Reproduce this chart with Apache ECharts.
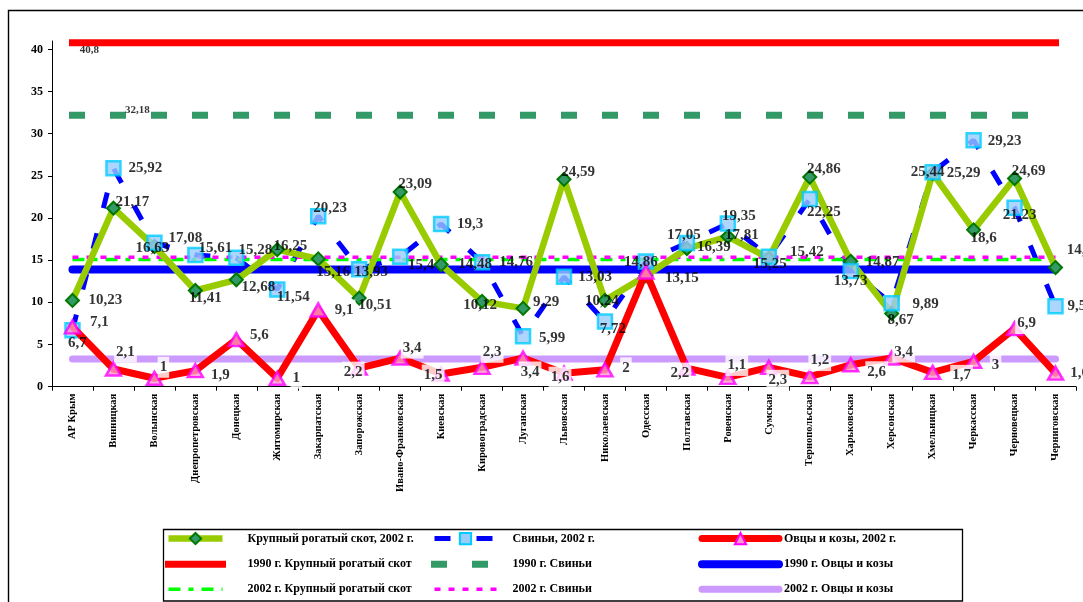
<!DOCTYPE html>
<html><head><meta charset="utf-8">
<script src="https://cdn.jsdelivr.net/npm/echarts@6/dist/echarts.min.js"></script>
<style>html,body{margin:0;padding:0;background:#fff}#c{width:1083px;height:602px}</style>
</head><body><div id="c"></div>
<script>
const regions = ['АР Крым','Винницкая','Волынская','Днепропетровская','Донецкая','Житомирская','Закарпатская','Запорожская','Ивано-Франковская','Киевская','Кировоградская','Луганская','Львовская','Николаевская','Одесская','Полтавская','Ровенская','Сумская','Тернопольская','Харьковская','Херсонская','Хмельницкая','Черкасская','Черновецкая','Черниговская'];
const cattle2002 = [10.23,21.17,16.63,11.41,12.68,16.25,15.16,10.51,23.09,14.48,10.12,9.29,24.59,10.24,13.15,16.39,17.81,15.25,24.86,14.87,8.67,25.29,18.6,24.69,14.13];
const pigs2002   = [6.7,25.92,17.08,15.61,15.28,11.54,20.23,13.93,15.4,19.3,14.76,5.99,13.03,7.72,14.86,17.05,19.35,15.42,22.25,13.73,9.89,25.44,29.23,21.23,9.54];
const sheep2002  = [7.1,2.1,1,1.9,5.6,1,9.1,2.2,3.4,1.5,2.3,3.4,1.6,2,13.6,2.2,1.1,2.3,1.2,2.6,3.4,1.7,3,6.9,1.6];
const cattle1990 = 40.8;
const pigs1990 = 32.18;
const sheep1990 = 13.9;
const cattleAvg2002 = 15.1;
const pigsAvg2002 = 15.35;
const sheepAvg2002 = 3.3;
const yTicks = [0,5,10,15,20,25,30,35,40];
const names = {
  cattle: 'Крупный рогатый скот, 2002 г.', pigs: 'Свиньи, 2002 г.', sheep: 'Овцы и козы, 2002 г.',
  c90: '1990 г. Крупный рогатый скот', p90: '1990 г. Свиньи', s90: '1990 г. Овцы и козы',
  c02: '2002 г. Крупный рогатый скот', p02: '2002 г. Свиньи', s02: '2002 г. Овцы и козы'
};

// label placement (pixel offsets of label centre from the point) -- styling only
const cattleLabelOffsets = [[33,0],[19,-6],[-2,2],[10,8],[22,7],[13,-4],[15,13],[16,7],[15,-8],[34,0],[-2,4],[23,-6],[14,-7],[-3,1],[36,2],[27,-1],[14,-1],[1,6],[14,-8],[32,1],[9,7],[31,0],[10,8],[14,-7],[28,-17]];
const pigLabelOffsets = [[5,13],[32,0],[31,-5],[20,-7],[19,-8],[16,8],[12,-8],[12,3],[21,8],[29,0],[34,0],[29,2],[31,0],[8,8],[-5,1],[-3,-8],[11,-7],[38,-5],[14,13],[0,10],[34,1],[-5,0],[31,1],[5,7],[25,0]];
const sheepLabelOffsets = [[27,-5],[12,-17],[9,-11],[25,4],[23,-4],[19,0],[26,0],[-6,4],[12,-10],[-8,1],[10,-15],[7,14],[-4,4],[21,-2],null,[-7,5],[9,-12],[9,13],[10,-16],[26,7],[12,-6],[29,3],[22,4],[12,-5],[24,0]];

const FF = "'Liberation Serif','Times New Roman',serif";
const fmt = v => String(v).replace('.', ',');
const last = regions.length - 1;
const CLEAR = 'rgba(0,0,0,0)';

function labelSeries(values, offsets, extra) {
  return {
    type: 'scatter', silent: true, z: 10, symbolSize: 1,
    itemStyle: {color: CLEAR},
    emphasis: {disabled: true},
    data: values.map((v, i) => ({
      value: [i, v],
      label: offsets[i] ? {show: true, offset: offsets[i]} : {show: false}
    })),
    label: Object.assign({
      show: true, position: 'inside', formatter: p => fmt(p.value[1]),
      fontFamily: FF, fontWeight: 'bold', fontSize: 15, color: '#000'
    }, extra || {})
  };
}
function markerSeries(values, z, symbol, size, itemStyle) {
  return {
    type: 'scatter', silent: true, z, symbol, symbolSize: size,
    emphasis: {disabled: true}, itemStyle,
    data: values.map((v, i) => [i, v])
  };
}
function hLine(name, v, lineStyle) {
  return {
    name, type: 'line', symbol: 'none', z: 2, silent: true,
    emphasis: {disabled: true},
    itemStyle: {color: CLEAR},
    data: [[0, v], [last, v]],
    lineStyle
  };
}
const legendText = pad => ({fontFamily: FF, fontWeight: 'bold', fontSize: 12, color: '#000', padding: [0,0,0,pad]});

const diamondStyle = {color: '#339966', borderColor: '#007700', borderWidth: 2};
const squareStyle = {color: '#99CCFF', borderColor: '#00CCFF', borderWidth: 2.5};
const triangleStyle = {color: '#FF99CC', borderColor: '#FF00FF', borderWidth: 2.5};

const chart = echarts.init(document.getElementById('c'), null, {renderer: 'canvas'});
chart.setOption({
  animation: false,
  backgroundColor: '#fff',
  grid: {left: 52, right: 7, top: 41, bottom: 215.3},
  xAxis: {
    type: 'category', data: regions, boundaryGap: true,
    axisLine: {lineStyle: {color: '#000', width: 1}},
    axisTick: {show: true, interval: 0, length: 4, lineStyle: {color: '#000'}},
    axisLabel: {interval: 0, rotate: 90, margin: 7, fontFamily: FF, fontWeight: 'bold', fontSize: 10.5, color: '#000'},
    splitLine: {show: false}
  },
  yAxis: {
    type: 'value', min: 0, max: 41,
    axisLine: {show: true, lineStyle: {color: '#000', width: 1}},
    axisTick: {show: true, length: 4, customValues: yTicks, lineStyle: {color: '#000'}},
    axisLabel: {customValues: yTicks, margin: 9, fontFamily: FF, fontWeight: 'bold', fontSize: 12, color: '#000'},
    splitLine: {show: false}
  },
  legend: [
    {data: [names.cattle, names.c90, names.c02], orient: 'vertical', left: 165, top: 532, padding: 0,
     itemWidth: 54, itemHeight: 14, itemGap: 13, selectedMode: false,
     lineStyle: {width: 'inherit'}, textStyle: legendText(20)},
    {data: [names.pigs, names.p90, names.p02], orient: 'vertical', left: 431, top: 532, padding: 0,
     itemWidth: 62, itemHeight: 14, itemGap: 13, selectedMode: false,
     lineStyle: {width: 'inherit'}, textStyle: legendText(11)},
    {data: [names.sheep, names.s90, names.s02], orient: 'vertical', left: 698, top: 532, padding: 0,
     itemWidth: 77, itemHeight: 14, itemGap: 13, selectedMode: false,
     lineStyle: {width: 'inherit'}, textStyle: legendText(0)}
  ],
  graphic: [
    {type: 'rect', shape: {x: 8.5, y: 10.5, width: 1090, height: 620}, style: {fill: 'none', stroke: '#000', lineWidth: 1.4}, silent: true},
    {type: 'rect', shape: {x: 163.5, y: 529.5, width: 799, height: 71.5}, style: {fill: 'none', stroke: '#000', lineWidth: 1.3}, silent: true}
  ],
  series: [
    {name: names.pigs, type: 'line', z: 1, data: pigs2002, silent: true, emphasis: {disabled: true},
     symbol: 'rect', symbolSize: 13, showSymbol: false, itemStyle: squareStyle,
     lineStyle: {color: '#0000FF', width: 5, type: [16, 26]}},
    hLine(names.c90, cattle1990, {color: '#FF0000', width: 7, cap: 'square'}),
    hLine(names.p90, pigs1990, {color: '#339966', width: 7, type: [9, 32], cap: 'square'}),
    hLine(names.s90, sheep1990, {color: '#0000FF', width: 8, cap: 'round'}),
    hLine(names.s02, sheepAvg2002, {color: '#CC99FF', width: 7, cap: 'round'}),
    hLine(names.c02, cattleAvg2002, {color: '#00FF00', width: 3.5, type: [12, 8, 5, 8]}),
    hLine(names.p02, pigsAvg2002, {color: '#FF00FF', width: 3.5, type: [6, 8]}),
    {name: names.cattle, type: 'line', z: 3, data: cattle2002, silent: true, emphasis: {disabled: true},
     symbol: 'diamond', symbolSize: 13, showAllSymbol: true, itemStyle: diamondStyle,
     lineStyle: {color: '#99CC00', width: 6.5, join: 'round'}},
    markerSeries(pigs2002, 4, 'rect', 14, squareStyle),
    {name: names.sheep, type: 'line', z: 5, data: sheep2002, silent: true, emphasis: {disabled: true},
     symbol: 'triangle', symbolSize: [15, 13], showSymbol: false, itemStyle: triangleStyle,
     lineStyle: {color: '#FF0000', width: 7, join: 'round', cap: 'round'}},
    markerSeries(sheep2002, 6, 'triangle', [15, 13], triangleStyle),
    labelSeries(cattle2002, cattleLabelOffsets),
    labelSeries(pigs2002, pigLabelOffsets),
    labelSeries(sheep2002, sheepLabelOffsets, {backgroundColor: '#fff', padding: [3, 2]}),
    labelSeries([cattle1990, pigs1990], [[17, 7], [24, -5]], {fontSize: 11})
  ]
});
</script></body></html>
